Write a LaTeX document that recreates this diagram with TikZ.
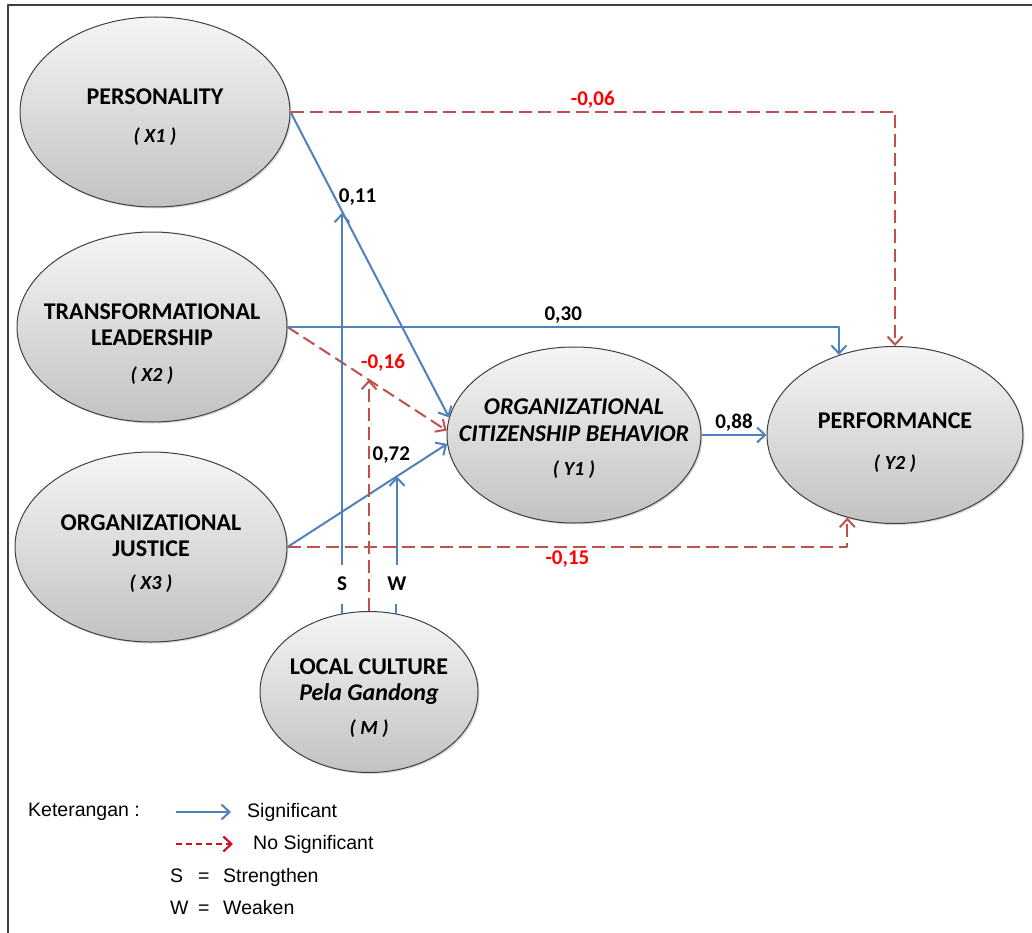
\documentclass[tikz,border=0pt]{standalone}
\usepackage{fontspec}
\setmainfont{Carlito}
\newfontfamily\arialfont{Liberation Sans}
\usetikzlibrary{arrows.meta,shapes.geometric,shadows}

\definecolor{sigblue}{HTML}{4F81BD}
\definecolor{nsigred}{HTML}{C0504D}
\definecolor{valred}{HTML}{FF0000}
\definecolor{legred}{HTML}{D01020}
\newcommand\idfont{\fontsize{20}{24}\selectfont\itshape}

\begin{document}
\begin{tikzpicture}[x=1pt,y=-1pt,line join=round,>={Straight Barb[length=8pt,width=15pt]}]
\tikzset{
    latent/.style=  {ellipse, draw=black!75, line width=1pt, top color=gray!8, bottom color=gray!48,
                     drop shadow={opacity=0.3,shadow xshift=1.5pt,shadow yshift=-1.5pt}, inner sep=0pt},
    caption/.style= {align=center, font=\fontsize{24}{26}\selectfont\bfseries, inner sep=0pt},
    sig/.style=     {sigblue, line width=2pt},
    nsig/.style=    {nsigred, line width=2pt, dash pattern=on 13pt off 6pt},
    coef/.style=    {font=\fontsize{21}{24}\selectfont\bfseries, inner sep=3pt, text=black},
    coefred/.style= {coef, text=valred},
    modlabel/.style={font=\fontsize{21}{24}\selectfont\bfseries, inner sep=0pt, text=black},
    legend/.style=  {font=\arialfont\fontsize{19.5}{22}\selectfont, anchor=west, inner sep=0pt},
    legdash/.style= {legred, line width=2.2pt, dash pattern=on 6pt off 4pt}
}
\useasboundingbox (0,0) rectangle (1032,933);
%% frame
\draw[black!75, line width=1.5pt] (8,933) -- (8,5) -- (1032,5);

%% latent variables
\node[latent, minimum width=270, minimum height=190] (X1) at (155,112) {};
\node[latent, minimum width=270, minimum height=190] (X2) at (152,327) {};
\node[latent, minimum width=272, minimum height=190] (X3) at (151,547) {};
\node[latent, minimum width=254, minimum height=176] (Y1) at (574,435) {};
\node[latent, minimum width=256, minimum height=177] (Y2) at (895,435) {};
\node[latent, minimum width=218, minimum height=161] (M)  at (369,692) {};

\node[caption] (X1t) at (155,117) {PERSONALITY\\[12pt]{\idfont ( X1 )}};
\node[caption] (X2t) at (152,344) {TRANSFORMATIONAL\\LEADERSHIP\\[10pt]{\idfont ( X2 )}};
\node[caption] (X3t) at (151,554) {ORGANIZATIONAL\\JUSTICE\\[7pt]{\idfont ( X3 )}};
\node[caption, font=\fontsize{24}{27}\selectfont\bfseries\itshape] (Y1t) at (574,439)
    {ORGANIZATIONAL\\CITIZENSHIP BEHAVIOR\\[7pt]{\idfont ( Y1 )}};
\node[caption] (Y2t) at (895,443) {PERFORMANCE\\[15pt]{\idfont ( Y2 )}};
\node[caption] (Mt) at (369,698) {LOCAL CULTURE\\{\itshape Pela Gandong}\\[8pt]{\idfont ( M )}};

%% paths to OCB
\draw[sig,->] (X1.east) -- node[coef, pos=0.28, right]{0,11} coordinate[pos=0.33] (onX1) (Y1.172);
\draw[nsig,->] (X2.east) -- node[coefred, pos=0.45, above right, inner sep=1pt]{-0,16} coordinate[pos=0.51] (onX2) (Y1.178);
\draw[sig,->] (X3.east) -- node[coef, pos=0.65, above=16pt, inner sep=0pt]{0,72} coordinate[pos=0.684] (onX3) (Y1.184);

%% paths to performance
\draw[nsig,->] (X1.east) -| node[coefred, pos=0.25, above]{-0,06} (Y2.north);
\draw[sig,->] (X2.east) -| node[coef, pos=0.25, above]{0,30} (Y2.125);
\draw[nsig,->] (X3.east) -| node[coefred, pos=0.25, below]{-0,15} (Y2.240);
\draw[sig,->] (Y1.east) -- node[coef, above]{0,88} (Y2.west);

%% moderation
\node[modlabel] (S) at (342,584) {S};
\node[modlabel] (W) at (397,584) {W};
\draw[sig,->] ([yshift=12pt]S.north) -- (S |- onX1);
\draw[sig] (M.109) -- ++(0,-10);
\draw[sig,->] ([yshift=12pt]W.north) -- (W |- onX3);
\draw[sig] (M.71) -- ++(0,-10);
\draw[nsig,->] (M.north) -- (M.north |- onX2);

%% legend
\node[legend] (ket) at (28,812) {Keterangan :};
\coordinate (lgs) at (176,812);
\node[legend] (sigtxt) at (247,812) {Significant};
\draw[sig,->] (lgs) -- ([xshift=-16pt]sigtxt.west);
\coordinate (lgn) at (176,844);
\node[legend] (nsigtxt) at (253,844) {No Significant};
\draw[legdash,->] (lgn) -- ([xshift=-20pt]nsigtxt.west);
\node[legend] (keyS) at (170,877) {\makebox[28pt][l]{S}\makebox[25pt][l]{=}Strengthen};
\node[legend] (keyW) at (170,908) {\makebox[28pt][l]{W}\makebox[25pt][l]{=}Weaken};

\end{tikzpicture}
\end{document}
